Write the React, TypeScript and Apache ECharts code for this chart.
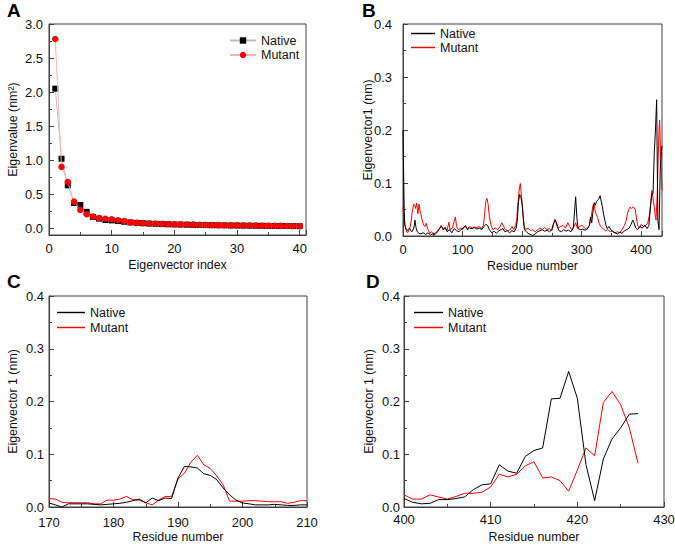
import React, { useEffect, useRef } from 'react';
import * as echarts from 'echarts';

const FONT = '"Liberation Sans", Arial, Helvetica, sans-serif';

// Panel A: eigenvalues
const aIndex = [1, 2, 3, 4, 5, 6, 7, 8, 9, 10, 11, 12, 13, 14, 15, 16, 17, 18, 19, 20, 21, 22, 23, 24, 25, 26, 27, 28, 29, 30, 31, 32, 33, 34, 35, 36, 37, 38, 39, 40];
const aNative = [2.05, 1.02, 0.63, 0.37, 0.34, 0.24, 0.165, 0.14, 0.12, 0.115, 0.105, 0.095, 0.085, 0.078, 0.073, 0.068, 0.064, 0.061, 0.058, 0.055, 0.053, 0.051, 0.049, 0.047, 0.046, 0.044, 0.043, 0.042, 0.04, 0.039, 0.038, 0.037, 0.036, 0.035, 0.034, 0.033, 0.033, 0.032, 0.031, 0.03];
const aMutant = [2.78, 0.9, 0.68, 0.39, 0.27, 0.205, 0.17, 0.148, 0.138, 0.132, 0.117, 0.103, 0.085, 0.078, 0.073, 0.069, 0.066, 0.063, 0.06, 0.058, 0.056, 0.054, 0.052, 0.05, 0.048, 0.046, 0.045, 0.044, 0.042, 0.041, 0.04, 0.039, 0.038, 0.037, 0.036, 0.035, 0.034, 0.033, 0.032, 0.031];

// Panel B: eigenvector 1 over all residues
const bNativeResidue = [0, 1, 2, 3, 5, 7, 9, 11, 13, 15, 17, 19, 20, 22, 24, 27, 30, 34, 38, 42, 46, 50, 54, 58, 62, 65, 68, 71, 74, 78, 82, 86, 90, 94, 98, 102, 105, 108, 112, 116, 120, 124, 128, 132, 136, 139, 142, 145, 149, 153, 157, 161, 165, 168, 171, 175, 179, 183, 187, 190, 192, 194, 196, 198, 200, 202, 204, 207, 210, 214, 218, 222, 226, 230, 234, 238, 242, 246, 250, 253, 256, 259, 262, 266, 270, 274, 278, 282, 286, 288, 290, 292, 294, 298, 302, 306, 310, 313, 315, 317, 319, 321, 323, 325, 327, 329, 331, 333, 335, 337, 339, 341, 343, 346, 349, 352, 356, 360, 364, 368, 372, 376, 380, 383, 386, 388, 391, 394, 398, 402, 406, 410, 413, 416, 418, 420, 422, 424, 426, 428, 430, 432, 434, 435];
const bNativeValue = [0.2, 0.12, 0.05, 0.02, 0.013, 0.01, 0.012, 0.015, 0.01, 0.008, 0.012, 0.02, 0.03, 0.015, 0.008, 0.005, 0.004, 0.006, 0.003, 0.006, 0.002, 0.004, 0.003, 0.008, 0.015, 0.018, 0.012, 0.016, 0.008, 0.012, 0.006, 0.014, 0.01, 0.008, 0.013, 0.016, 0.02, 0.012, 0.015, 0.014, 0.016, 0.013, 0.015, 0.012, 0.018, 0.022, 0.02, 0.012, 0.006, 0.009, 0.005, 0.01, 0.012, 0.014, 0.008, 0.01, 0.006, 0.01, 0.008, 0.015, 0.03, 0.065, 0.078, 0.074, 0.06, 0.035, 0.012, 0.008, 0.005, 0.003, 0.001, 0.004, 0.008, 0.01, 0.012, 0.009, 0.011, 0.008, 0.012, 0.025, 0.03, 0.018, 0.01, 0.008, 0.012, 0.009, 0.011, 0.008, 0.015, 0.045, 0.074, 0.035, 0.014, 0.012, 0.013, 0.011, 0.014, 0.02, 0.036, 0.025, 0.045, 0.063, 0.058, 0.065, 0.068, 0.07, 0.076, 0.065, 0.055, 0.04, 0.03, 0.02, 0.014, 0.018, 0.012, 0.008, 0.006, 0.004, 0.007, 0.005, 0.01, 0.012, 0.015, 0.022, 0.03, 0.025, 0.015, 0.012, 0.018, 0.015, 0.02, 0.014, 0.02, 0.06, 0.08, 0.08, 0.156, 0.2, 0.257, 0.03, 0.012, 0.124, 0.16, 0.17];
const bMutantResidue = [0, 1, 2, 4, 6, 8, 10, 12, 14, 15, 17, 18, 20, 21, 23, 25, 27, 29, 30, 32, 35, 37, 39, 41, 43, 45, 48, 51, 55, 58, 61, 64, 67, 70, 74, 77, 79, 83, 86, 88, 90, 93, 97, 100, 104, 108, 112, 116, 120, 124, 128, 132, 135, 137, 139, 141, 143, 145, 148, 151, 155, 159, 163, 166, 169, 172, 176, 180, 183, 186, 189, 191, 193, 195, 197, 199, 201, 203, 206, 210, 214, 218, 222, 226, 230, 234, 238, 242, 246, 250, 253, 255, 258, 261, 265, 269, 273, 277, 280, 283, 287, 290, 293, 297, 301, 305, 309, 313, 316, 319, 321, 323, 325, 327, 329, 332, 336, 340, 344, 348, 352, 356, 360, 364, 368, 372, 375, 377, 379, 381, 384, 387, 390, 392, 394, 397, 400, 404, 408, 411, 414, 416, 418, 420, 422, 424, 425, 427, 428, 430, 431, 433, 435];
const bMutantValue = [0.055, 0.055, 0.03, 0.017, 0.008, 0.006, 0.012, 0.017, 0.03, 0.042, 0.055, 0.06, 0.058, 0.052, 0.062, 0.042, 0.06, 0.045, 0.042, 0.03, 0.02, 0.018, 0.024, 0.015, 0.01, 0.005, 0.008, 0.004, 0.006, 0.01, 0.014, 0.02, 0.012, 0.016, 0.01, 0.026, 0.012, 0.015, 0.028, 0.036, 0.018, 0.012, 0.015, 0.012, 0.018, 0.014, 0.018, 0.015, 0.017, 0.016, 0.018, 0.014, 0.02, 0.04, 0.065, 0.071, 0.06, 0.036, 0.02, 0.012, 0.015, 0.012, 0.018, 0.025, 0.018, 0.012, 0.01, 0.012, 0.018, 0.012, 0.02, 0.03, 0.06, 0.085, 0.099, 0.075, 0.05, 0.02, 0.012, 0.015, 0.01, 0.012, 0.008, 0.012, 0.015, 0.012, 0.016, 0.012, 0.014, 0.01, 0.022, 0.032, 0.025, 0.015, 0.018, 0.02, 0.015, 0.025, 0.018, 0.012, 0.018, 0.025, 0.015, 0.018, 0.02, 0.015, 0.012, 0.02, 0.035, 0.058, 0.06, 0.045, 0.04, 0.035, 0.025, 0.018, 0.014, 0.01, 0.012, 0.008, 0.01, 0.006, 0.008, 0.006, 0.012, 0.02, 0.03, 0.042, 0.05, 0.054, 0.052, 0.055, 0.05, 0.035, 0.02, 0.015, 0.022, 0.018, 0.02, 0.025, 0.04, 0.06, 0.086, 0.07, 0.055, 0.035, 0.03, 0.08, 0.124, 0.2, 0.219, 0.143, 0.086];

// Panel C: residues 170-210
const cResidue = [170, 171, 172, 173, 174, 175, 176, 177, 178, 179, 180, 181, 182, 183, 184, 185, 186, 187, 188, 189, 190, 191, 192, 193, 194, 195, 196, 197, 198, 199, 200, 201, 202, 203, 204, 205, 206, 207, 208, 209, 210];
const cNative = [0.0076, 0.004, 0.0, 0.006, 0.006, 0.006, 0.006, 0.005, 0.004, 0.005, 0.006, 0.007, 0.009, 0.012, 0.015, 0.008, 0.017, 0.012, 0.017, 0.016, 0.055, 0.077, 0.076, 0.074, 0.063, 0.06, 0.052, 0.036, 0.023, 0.013, 0.0076, 0.006, 0.004, 0.004, 0.004, 0.005, 0.004, 0.003, 0.003, 0.004, 0.004];
const cMutant = [0.016, 0.015, 0.009, 0.008, 0.008, 0.008, 0.008, 0.006, 0.006, 0.013, 0.013, 0.015, 0.02, 0.014, 0.013, 0.008, 0.004, 0.013, 0.02, 0.02, 0.053, 0.064, 0.085, 0.098, 0.08, 0.073, 0.059, 0.042, 0.011, 0.011, 0.011, 0.012, 0.012, 0.011, 0.01, 0.01, 0.01, 0.007, 0.009, 0.012, 0.012];

// Panel D: residues 400-427
const dResidue = [400, 401, 402, 403, 404, 405, 406, 407, 408, 409, 410, 411, 412, 413, 414, 415, 416, 417, 418, 419, 420, 421, 422, 423, 424, 425, 426, 427];
const dNative = [0.016, 0.009, 0.006, 0.007, 0.014, 0.014, 0.016, 0.019, 0.033, 0.042, 0.044, 0.08, 0.068, 0.064, 0.096, 0.107, 0.112, 0.205, 0.206, 0.257, 0.206, 0.08, 0.012, 0.091, 0.129, 0.15, 0.176, 0.177];
const dMutant = [0.023, 0.015, 0.015, 0.023, 0.019, 0.015, 0.02, 0.026, 0.026, 0.028, 0.038, 0.062, 0.057, 0.062, 0.078, 0.086, 0.055, 0.057, 0.05, 0.03, 0.07, 0.112, 0.097, 0.198, 0.219, 0.194, 0.15, 0.083];

const zip = (xs: number[], ys: number[]) => xs.map((x, i) => [x, ys[i]]);

const AXIS_COLOR = '#404040';
const textBase = { fontFamily: FONT, fontSize: 13, color: '#111' };
const nameBase = { fontFamily: FONT, fontSize: 12.4, color: '#111' };

function xAxis(gridIndex: number, min: number, max: number, name: string, labelMargin: number, hideMax: boolean) {
  return {
    type: 'value', gridIndex, min, max, interval: gridIndex === 1 ? 100 : 10,
    name, nameLocation: 'middle', nameGap: 24, nameMoveOverlap: false,
    nameTextStyle: { ...nameBase },
    axisLine: { show: true, onZero: false, lineStyle: { color: AXIS_COLOR, width: 1 } },
    axisTick: { show: true, inside: true, length: 5, lineStyle: { color: AXIS_COLOR, width: 1 } },
    minorTick: { show: true, splitNumber: 2, length: 3, lineStyle: { color: AXIS_COLOR, width: 1 } },
    splitLine: { show: false },
    axisLabel: { ...textBase, margin: labelMargin, showMaxLabel: !hideMax, showMinLabel: true },
  };
}

function yAxis(gridIndex: number, min: number, max: number, interval: number | undefined, name: string, labelMargin: number, nameGap: number, hideMin: boolean) {
  return {
    type: 'value', gridIndex, min, max, interval,
    name, nameLocation: 'middle', nameGap, nameMoveOverlap: false,
    nameTextStyle: { ...nameBase },
    axisLine: { show: true, onZero: false, lineStyle: { color: AXIS_COLOR, width: 1 } },
    axisTick: { show: true, inside: true, length: 5, lineStyle: { color: AXIS_COLOR, width: 1 } },
    minorTick: { show: true, splitNumber: 2, length: 3, lineStyle: { color: AXIS_COLOR, width: 1 } },
    splitLine: { show: false },
    axisLabel: {
      ...textBase, margin: labelMargin, showMinLabel: !hideMin, showMaxLabel: true,
      formatter: (v: number) => v.toFixed(1),
    },
  };
}

function lineSeries(name: string, idx: number, data: number[][], color: string) {
  return {
    type: 'line', name, xAxisIndex: idx, yAxisIndex: idx, data,
    symbol: 'none', showSymbol: false, color,
    lineStyle: { color, width: 1 },
    z: name.startsWith('Mutant') ? 3 : 4,
  };
}

const legendText = { fontFamily: FONT, fontSize: 12.5, color: '#111' };
const fmt = (n: string) => n.split(' ')[0];

function thinLegend(left: number, top: number, suffix: string, itemWidth: number, gap: number) {
  return {
    left, top, orient: 'vertical', padding: 0, itemGap: gap,
    itemWidth, itemHeight: 1.4, icon: 'rect',
    textStyle: { ...legendText }, formatter: fmt,
    selectedMode: false,
    data: ['Native ' + suffix, 'Mutant ' + suffix],
  };
}

export default function App() {
  const ref = useRef<HTMLDivElement>(null);
  useEffect(() => {
    if (!ref.current) return;
    const chart = echarts.init(ref.current, undefined, { renderer: 'svg' });
    const letter = (text: string, left: number, top: number) => ({
      text, left, top, padding: 0,
      textStyle: { fontFamily: FONT, fontSize: 19, fontWeight: 'bold', color: '#000' },
    });
    chart.setOption({
      animation: false,
      backgroundColor: '#fff',
      title: [letter('A', 7, 1), letter('B', 362, 1), letter('C', 7, 272), letter('D', 366, 272)],
      grid: [
        { left: 49, top: 24, width: 257, height: 211, show: true, borderColor: AXIS_COLOR, borderWidth: 1, outerBoundsMode: 'none' },
        { left: 403, top: 24, width: 259, height: 212, show: true, borderColor: AXIS_COLOR, borderWidth: 1, outerBoundsMode: 'none' },
        { left: 49, top: 296, width: 258, height: 211, show: true, borderColor: AXIS_COLOR, borderWidth: 1, outerBoundsMode: 'none' },
        { left: 404, top: 296, width: 260, height: 211, show: true, borderColor: AXIS_COLOR, borderWidth: 1, outerBoundsMode: 'none' },
      ],
      xAxis: [
        xAxis(0, 0, 41, 'Eigenvector index', 7, true),
        xAxis(1, 0, 435, 'Residue number', 7, true),
        xAxis(2, 170, 210, 'Residue number', 9, false),
        xAxis(3, 400, 430, 'Residue number', 6, false),
      ],
      yAxis: [
        yAxis(0, -0.1, 3.0, undefined, 'Eigenvalue (nm²)', 6, 30, true),
        yAxis(1, 0, 0.4, 0.1, 'Eigenvector1 (nm)', 11, 29, false),
        yAxis(2, 0, 0.4, 0.1, 'Eigenvector 1 (nm)', 5, 30, false),
        yAxis(3, 0, 0.4, 0.1, 'Eigenvector 1 (nm)', 4, 29, false),
      ],
      legend: [
        {
          left: 229, top: 34, orient: 'vertical', padding: 0, itemGap: 1.5,
          itemWidth: 26, itemHeight: 8, selectedMode: false,
          textStyle: { ...legendText }, formatter: fmt,
          data: ['Native A', 'Mutant A'],
        },
        thinLegend(411, 27, 'B', 24, 1),
        thinLegend(57, 306, 'C', 28, 2),
        thinLegend(414, 306, 'D', 29, 2),
      ],
      series: [
        {
          type: 'line', name: 'Native A', xAxisIndex: 0, yAxisIndex: 0,
          data: zip(aIndex, aNative), symbol: 'rect', symbolSize: 6, showSymbol: true,
          color: '#000', itemStyle: { color: '#000' },
          lineStyle: { color: '#bdbdbd', width: 1 }, z: 3,
        },
        {
          type: 'line', name: 'Mutant A', xAxisIndex: 0, yAxisIndex: 0,
          data: zip(aIndex, aMutant), symbol: 'circle', symbolSize: 6.5, showSymbol: true,
          color: '#ff0000', itemStyle: { color: '#ff0000' },
          lineStyle: { color: '#ffb4b4', width: 1 }, z: 4,
        },
        lineSeries('Mutant B', 1, zip(bMutantResidue, bMutantValue), '#ff0000'),
        lineSeries('Native B', 1, zip(bNativeResidue, bNativeValue), '#000000'),
        lineSeries('Native C', 2, zip(cResidue, cNative), '#000000'),
        lineSeries('Mutant C', 2, zip(cResidue, cMutant), '#ff0000'),
        lineSeries('Native D', 3, zip(dResidue, dNative), '#000000'),
        lineSeries('Mutant D', 3, zip(dResidue, dMutant), '#ff0000'),
      ],
    });
    return () => chart.dispose();
  }, []);
  return <div ref={ref} style={{ position: 'absolute', left: 0, top: 0, width: 675, height: 546 }} />;
}
